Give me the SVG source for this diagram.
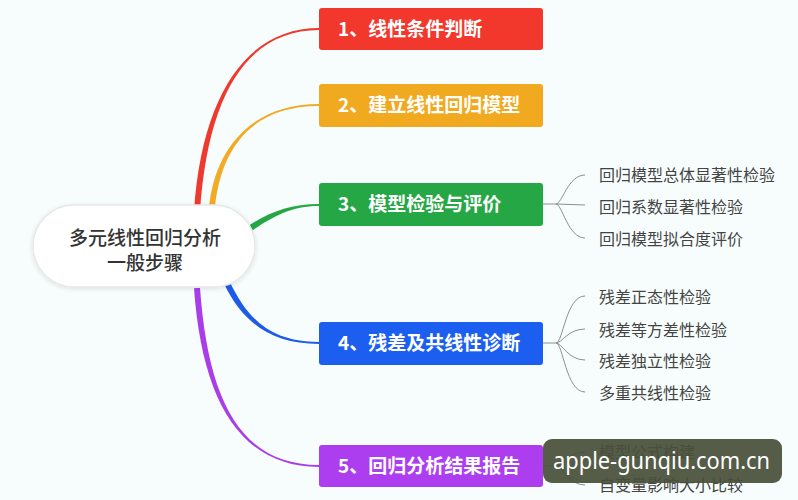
<svg xmlns="http://www.w3.org/2000/svg" width="798" height="500" viewBox="0 0 798 500">
<defs>
<style>
.box text{font-family:"Noto Sans CJK SC","Noto Sans",sans-serif;font-size:19px;font-weight:bold;fill:#ffffff;}
.sub{font-family:"Noto Sans CJK SC","Noto Sans",sans-serif;font-size:16px;fill:#444444;}
.center{font-family:"Noto Sans CJK SC","Noto Sans",sans-serif;font-size:19px;fill:#333333;font-weight:500;}
.twig{fill:none;stroke:#8a8f8f;stroke-width:1;}
</style>
<filter id="sh" x="-10%" y="-20%" width="120%" height="140%">
<feDropShadow dx="0" dy="1" stdDeviation="2" flood-color="#000000" flood-opacity="0.12"/>
</filter>
</defs>
<rect x="0" y="0" width="798" height="500" fill="#f7fdfc"/>
<g id="connectors">
<path d="M194,212 C202,90 250,28 319,28 L319,30 C250,30 208,90 200,212 Z" fill="#ee3a2e"/>
<path d="M209,207 C215,150 250,104 319,104 L319,106 C250,106 221,150 215,207 Z" fill="#f2ab24"/>
<path d="M247.3,226.5 C268.3,212.5 290,204 319,204 L319,206 C290,206 271.7,217.5 250.7,231.5 Z" fill="#25a745"/>
<path d="M229.7,281.7 C247.7,318.7 270,342 319,342 L319,344 C270,344 242.3,321.3 224.3,284.3 Z" fill="#1d5be8"/>
<path d="M200,287.8 C208,399.8 240,465 319,465 L319,467 C240,467 202,400.2 194,288.2 Z" fill="#a93ee8"/>
<path class="twig" d="M543,204 L556,204"/>
<path class="twig" d="M556,204 C562,204 568,175 585,175"/>
<path class="twig" d="M556,204 L585,205"/>
<path class="twig" d="M556,204 C562,204 568,238 585,238"/>
<path class="twig" d="M543,343 L556,343"/>
<path class="twig" d="M556,343 C563,343 566,296 585,296"/>
<path class="twig" d="M556,343 C562,343 568,329 585,329"/>
<path class="twig" d="M556,343 C562,343 568,360 585,360"/>
<path class="twig" d="M556,343 C563,343 566,392 585,392"/>
<path class="twig" d="M543,466 L556,466"/>
<path class="twig" d="M556,466 C563,466 568,452 585,452"/>
<path class="twig" d="M556,466 C563,466 568,485 585,485"/>
</g>
<g id="center">
<rect x="33" y="205" width="222" height="82" rx="41" fill="#ffffff" stroke="#e6e8e8" stroke-width="1.5" filter="url(#sh)"/>
<text class="center" x="145" y="245" text-anchor="middle">多元线性回归分析</text>
<text class="center" x="145" y="270" text-anchor="middle">一般步骤</text>
</g>
<g id="n1" class="box">
<rect x="319" y="8" width="224" height="42" rx="3" fill="#f2372c"/>
<text x="338" y="36">1、线性条件判断</text>
</g>
<g id="n2" class="box">
<rect x="319" y="84" width="224" height="43" rx="3" fill="#f1a91f"/>
<text x="338" y="112">2、建立线性回归模型</text>
</g>
<g id="n3" class="box">
<rect x="319" y="183" width="224" height="43" rx="3" fill="#25a745"/>
<text x="338" y="211">3、模型检验与评价</text>
</g>
<g id="n4" class="box">
<rect x="319" y="322" width="224" height="43" rx="3" fill="#1c5ff0"/>
<text x="338" y="350">4、残差及共线性诊断</text>
</g>
<g id="n5" class="box">
<rect x="319" y="445" width="224" height="42" rx="3" fill="#ad3ef0"/>
<text x="338" y="473">5、回归分析结果报告</text>
</g>
<g id="s3a"><text class="sub" x="599" y="181">回归模型总体显著性检验</text></g>
<g id="s3b"><text class="sub" x="599" y="213">回归系数显著性检验</text></g>
<g id="s3c"><text class="sub" x="599" y="245">回归模型拟合度评价</text></g>
<g id="s4a"><text class="sub" x="599" y="303">残差正态性检验</text></g>
<g id="s4b"><text class="sub" x="599" y="336">残差等方差性检验</text></g>
<g id="s4c"><text class="sub" x="599" y="367">残差独立性检验</text></g>
<g id="s4d"><text class="sub" x="599" y="399">多重共线性检验</text></g>
<g id="s5a"><text class="sub" x="599" y="458">模型公式构建</text></g>
<g id="s5b"><text class="sub" x="599" y="491">自变量影响大小比较</text></g>
<g id="watermark">
<rect x="543" y="439" width="239" height="44" rx="9" fill="#485039" fill-opacity="0.93"/>
<text x="553" y="469" font-family="'Noto Sans','Open Sans',sans-serif" font-size="23" fill="#ffffff" textLength="217" lengthAdjust="spacingAndGlyphs">apple-gunqiu.com.cn</text>
</g>
</svg>
